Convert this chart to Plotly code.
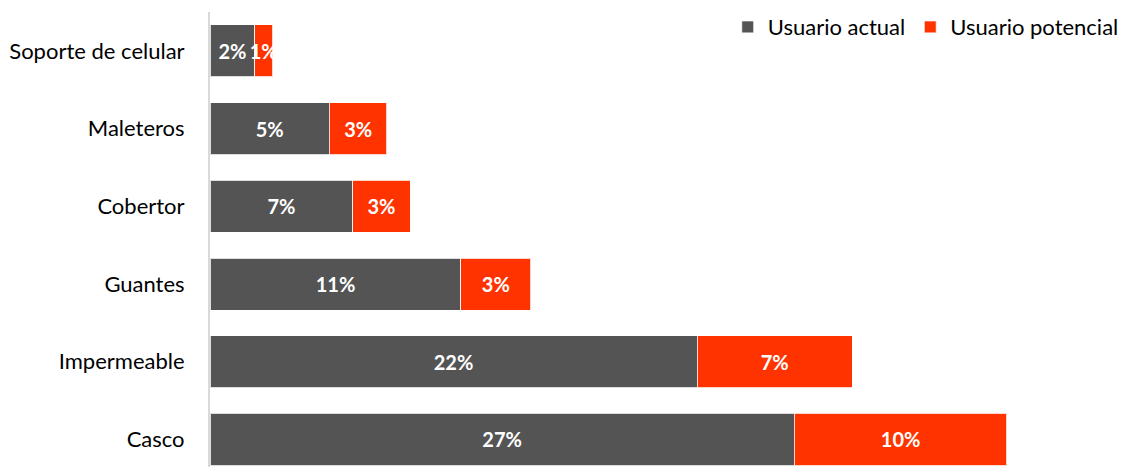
import plotly.graph_objects as go

# Accessory usage among riders (share of respondents)
categories = ["Casco", "Impermeable", "Guantes", "Cobertor", "Maleteros", "Soporte de celular"]
usuario_actual = [0.2668, 0.2224, 0.1146, 0.0652, 0.0545, 0.0205]
usuario_potencial = [0.0971, 0.0709, 0.0318, 0.0262, 0.0263, 0.0081]

series_names = ["Usuario actual", "Usuario potencial"]
colors = ["#545454", "#FF3300"]

fig = go.Figure()
for name, vals, col in zip(series_names, [usuario_actual, usuario_potencial], colors):
    fig.add_trace(go.Bar(
        y=categories,
        x=vals,
        name=name,
        orientation="h",
        marker=dict(color=col, line=dict(color="rgba(255,255,255,0.8)", width=1)),
        texttemplate="%{x:.0%}",
        textposition="inside",
        insidetextanchor="middle",
        textangle=0,
        textfont=dict(family="Lato", size=20, color="white", weight="bold"),
        cliponaxis=True,
        hoverinfo="skip",
    ))

fig.update_layout(
    width=1126,
    height=467,
    barmode="stack",
    bargap=0.33,
    plot_bgcolor="white",
    paper_bgcolor="white",
    margin=dict(l=210, r=40, t=12, b=0, autoexpand=False),
    font=dict(family="Lato", size=22, color="#000000"),
    uniformtext=dict(minsize=20, mode="show"),
    legend=dict(
        orientation="h",
        xref="container", yref="container",
        x=0.998, y=0.942,
        xanchor="right", yanchor="middle",
        font=dict(family="Lato", size=22, color="#000000"),
        traceorder="normal",
        itemclick=False,
        itemwidth=30,
    ),
    showlegend=True,
)
fig.update_xaxes(range=[0, 0.40], visible=False, showgrid=False, zeroline=False)
fig.update_yaxes(
    type="category",
    categoryorder="array",
    categoryarray=categories,
    range=[-0.354, 5.5],
    showline=True,
    linecolor="#D9D9D9",
    linewidth=2,
    showgrid=False,
    ticks="",
    ticklabelstandoff=19,
    tickfont=dict(family="Lato", size=22, color="#000000"),
)

fig.write_html("out.html")
